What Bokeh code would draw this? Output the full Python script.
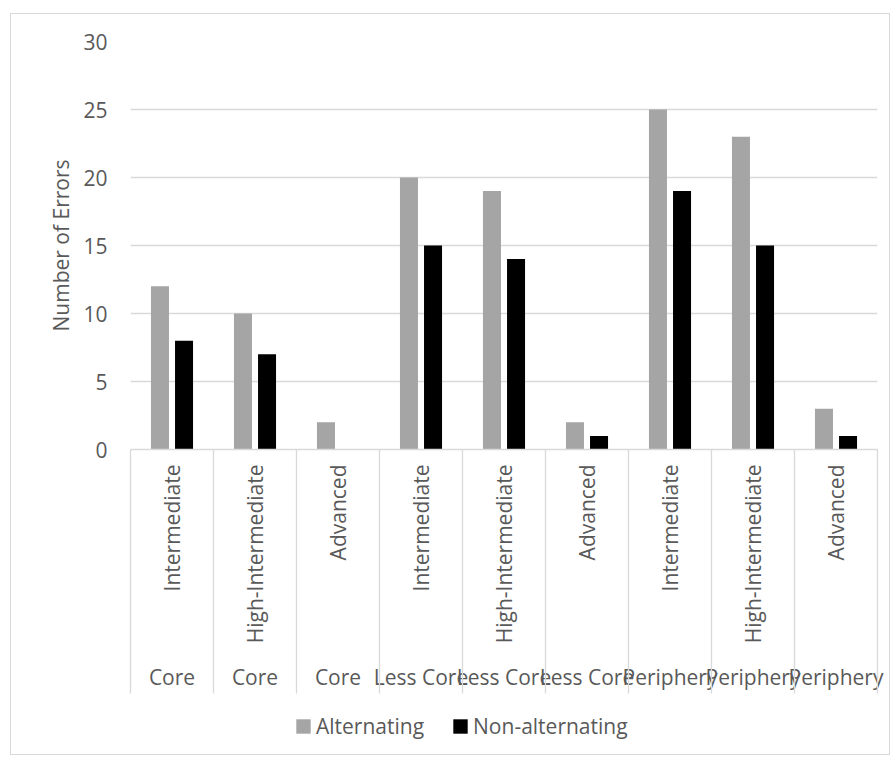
import math
from bokeh.plotting import figure
from bokeh.layouts import column
from bokeh.models import (Range1d, LinearAxis, FixedTicker, Legend, LegendItem,
                          ColumnDataSource, CustomJSTickFormatter)
from bokeh.transform import dodge
from bokeh.embed import file_html
from bokeh.resources import INLINE

# Two-level category labels (outer group, inner level)
groups = ["Core", "Core", "Core",
          "Less Core", "Less Core", "Less Core",
          "Periphery", "Periphery", "Periphery"]
levels = ["Intermediate", "High-Intermediate", "Advanced",
          "Intermediate", "High-Intermediate", "Advanced",
          "Intermediate", "High-Intermediate", "Advanced"]

# Error counts per category
alternating = [12, 10, 2, 20, 19, 2, 25, 23, 3]
non_alternating = [8, 7, 0, 15, 14, 1, 19, 15, 1]

series_names = ["Alternating", "Non-alternating"]
series_colors = ["#A5A5A5", "#000000"]

y_ticks = [0, 5, 10, 15, 20, 25, 30]

FONT = "Open Sans"
TEXT = "#595959"
GRID = "#d9d9d9"

n = len(groups)
centers = [i + 0.5 for i in range(n)]
source = ColumnDataSource(dict(x=centers, alt=alternating, non=non_alternating))

p = figure(width=878, height=690,
           x_range=Range1d(0, n), y_range=Range1d(0, 30),
           output_backend="svg", toolbar_location=None,
           x_axis_location=None,
           min_border_left=119, min_border_right=12,
           min_border_top=27, min_border_bottom=255,
           outline_line_color=None)

p.vbar(x=dodge("x", -0.145, range=p.x_range), top="alt", width=0.217,
       source=source, fill_color=series_colors[0], line_color=None)
p.vbar(x=dodge("x", 0.145, range=p.x_range), top="non", width=0.217,
       source=source, fill_color=series_colors[1], line_color=None)

# Value axis
yax = p.yaxis[0]
yax.ticker = FixedTicker(ticks=y_ticks)
yax.axis_line_color = None
yax.major_tick_line_color = None
yax.minor_tick_line_color = None
yax.major_label_standoff = 17
yax.major_label_text_font = FONT
yax.major_label_text_font_size = "21px"
yax.major_label_text_color = TEXT
yax.axis_label = "Number of Errors"
yax.axis_label_text_font = FONT
yax.axis_label_text_font_size = "21px"
yax.axis_label_text_font_style = "normal"
yax.axis_label_text_color = TEXT
yax.axis_label_standoff = 5

p.ygrid.ticker = FixedTicker(ticks=y_ticks)
p.ygrid.grid_line_color = GRID
p.ygrid.grid_line_width = 1.3
p.xgrid.visible = False


def label_formatter(labels):
    return CustomJSTickFormatter(args=dict(labels=labels),
                                 code="return labels[Math.floor(tick)] || ''")


# Inner level labels, rotated
inner = LinearAxis(
    ticker=FixedTicker(ticks=centers),
    formatter=label_formatter(levels),
    major_label_orientation=math.pi / 2,
    major_tick_in=0, major_tick_out=0, major_tick_line_color=None,
    minor_tick_line_color=None,
    axis_line_color=GRID, axis_line_width=1.3,
    major_label_standoff=15,
    major_label_text_font=FONT, major_label_text_font_size="21px",
    major_label_text_color=TEXT)
p.add_layout(inner, "below")

# Outer group labels
outer = LinearAxis(
    ticker=FixedTicker(ticks=centers),
    formatter=label_formatter(groups),
    major_tick_in=0, major_tick_out=0, major_tick_line_color=None,
    minor_tick_line_color=None, axis_line_color=None,
    major_label_standoff=16,
    major_label_text_font=FONT, major_label_text_font_size="21px",
    major_label_text_color=TEXT)
p.add_layout(outer, "below")

# Category separators: ticks pointing up from the bottom of the label block
bounds = list(range(n + 1))
sep = LinearAxis(
    ticker=FixedTicker(ticks=bounds),
    formatter=CustomJSTickFormatter(code="return ''"),
    major_tick_in=244, major_tick_out=0,
    major_tick_line_color=GRID, major_tick_line_width=1.3,
    minor_tick_line_color=None, axis_line_color=None,
    major_label_standoff=0, major_label_text_font_size="0px")
p.add_layout(sep, "below")

# Legend strip under the chart; each swatch renderer holds one point that
# lies outside the strip's ranges, so only its legend entry is visible
lf = figure(width=878, height=50, output_backend="svg", toolbar_location=None,
            x_range=Range1d(0, 1), y_range=Range1d(0, 1),
            min_border=0, outline_line_color=None)
lf.axis.visible = False
lf.grid.visible = False
swatches = [lf.vbar(x=[-10], top=[-10], width=1, fill_color=c, line_color=None)
            for c in series_colors]
legend = Legend(items=[LegendItem(label=name, renderers=[r])
                       for name, r in zip(series_names, swatches)],
                orientation="horizontal", location=(164, 14),
                border_line_color=None, background_fill_alpha=0,
                glyph_width=18, glyph_height=18, label_standoff=4, spacing=27,
                padding=5, margin=0,
                label_text_font=FONT, label_text_font_size="21px",
                label_text_color=TEXT)
lf.add_layout(legend, "center")

layout = column(p, lf, spacing=0, margin=(13, 5, 5, 10),
                styles={"border": "1px solid #d9d9d9"})

open("out.html", "w").write(file_html(layout, INLINE))
